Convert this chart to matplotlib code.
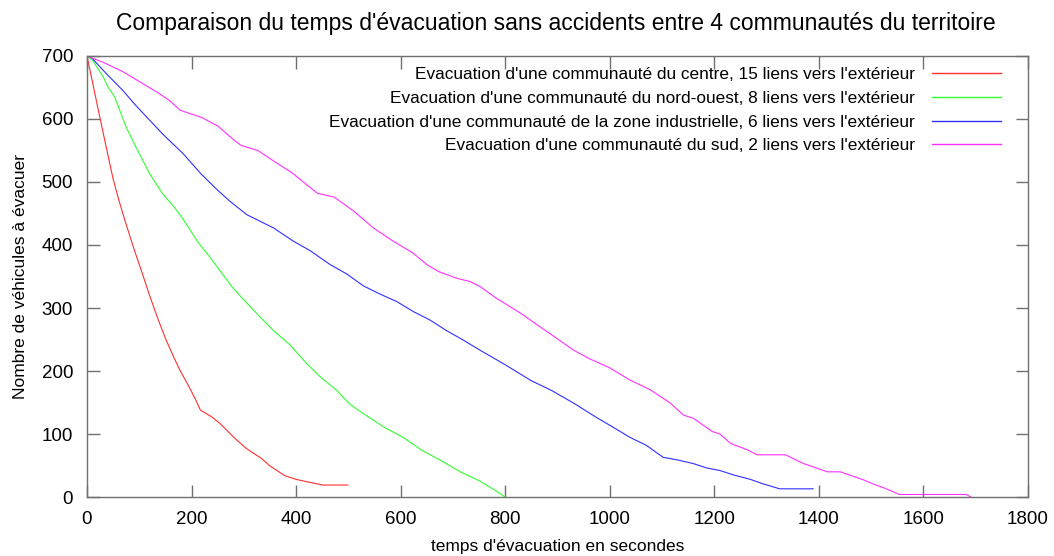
import matplotlib
matplotlib.use('Agg')
import matplotlib.pyplot as plt

plt.rcParams['font.family'] = ['Liberation Sans', 'DejaVu Sans']

# temps (s) et nombre de véhicules restants pour chaque communauté
t_centre = [0, 10, 20, 30, 40, 50, 60, 73, 89, 105, 121, 137, 150, 166, 178,
            194, 207, 217, 239, 254, 283, 305, 334, 349, 378, 400, 422, 451, 499]
v_centre = [700, 661, 621, 582, 543, 505, 474, 438, 396, 357, 317, 280, 252, 222, 201,
            177, 156, 138, 127, 117, 93, 77, 61, 50, 34, 28, 24, 19, 19]

t_nord_ouest = [0, 11, 31, 40, 53, 75, 94, 120, 145, 165, 184, 211, 233, 252, 278, 299,
                325, 357, 389, 420, 446, 478, 502, 524, 568, 604, 641, 677, 714, 750, 780, 800]
v_nord_ouest = [700, 693, 667, 651, 635, 587, 555, 513, 481, 462, 441, 406, 383, 362, 333, 314,
                291, 264, 241, 212, 191, 169, 148, 135, 111, 95, 74, 58, 40, 26, 11, 0]

t_industrielle = [0, 8, 37, 69, 94, 120, 145, 165, 184, 218, 250, 274, 306, 357, 395, 427, 465,
                  497, 529, 561, 593, 625, 656, 688, 720, 752, 800, 849, 889, 933, 975, 1006,
                  1038, 1070, 1102, 1129, 1160, 1186, 1211, 1237, 1269, 1293, 1325, 1389]
v_industrielle = [700, 698, 672, 645, 621, 598, 576, 560, 545, 513, 487, 469, 448, 427, 406, 391, 369,
                  354, 335, 322, 310, 294, 281, 264, 249, 233, 210, 185, 169, 148, 126, 111,
                  95, 82, 63, 59, 53, 46, 42, 35, 28, 21, 13, 13]

t_sud = [0, 31, 69, 107, 139, 160, 178, 199, 218, 250, 282, 295, 327, 365, 390, 441, 473,
         510, 548, 586, 624, 650, 672, 708, 733, 752, 784, 829, 867, 931, 960, 1000, 1038,
         1078, 1116, 1141, 1160, 1196, 1211, 1231, 1263, 1282, 1336, 1371, 1416, 1441, 1486,
         1503, 1529, 1554, 1682, 1691]
v_sud = [700, 690, 675, 656, 640, 628, 614, 608, 603, 589, 566, 558, 550, 529, 516, 482, 476,
         454, 427, 406, 387, 369, 358, 347, 342, 334, 315, 292, 270, 233, 220, 205, 186,
         170, 149, 130, 125, 104, 100, 85, 75, 67, 67, 53, 40, 40, 27,
         21, 13, 4, 4, 0]

labels = ["Evacuation d'une communauté du centre, 15 liens vers l'extérieur",
          "Evacuation d'une communauté du nord-ouest, 8 liens vers l'extérieur",
          "Evacuation d'une communauté de la zone industrielle, 6 liens vers l'extérieur",
          "Evacuation d'une communauté du sud, 2 liens vers l'extérieur"]

fig = plt.figure(figsize=(10.54, 5.56), dpi=100)
ax = fig.add_axes([0.0825, 0.1061, 0.8928, 0.7932])

lw = 0.8
ax.plot(t_centre, v_centre, color='#ff3030', linewidth=lw, label=labels[0])
ax.plot(t_nord_ouest, v_nord_ouest, color='#30ff30', linewidth=lw, label=labels[1])
ax.plot(t_industrielle, v_industrielle, color='#3030ff', linewidth=lw, label=labels[2])
ax.plot(t_sud, v_sud, color='#ff30ff', linewidth=lw, label=labels[3])

ax.set_xlim(0, 1800)
ax.set_ylim(0, 700)
ax.set_xticks(range(0, 1801, 200))
ax.set_yticks(range(0, 701, 100))

for s in ax.spines.values():
    s.set_color('#707070')
    s.set_linewidth(1.0)
ax.tick_params(direction='in', length=9, width=1, color='#707070',
               top=True, right=True, labelsize=13.5, pad=10)

ax.set_xlabel("temps d'évacuation en secondes", fontsize=12.5, labelpad=8)
ax.set_ylabel("Nombre de véhicules à évacuer", fontsize=12.5, labelpad=10)
fig.suptitle("Comparaison du temps d'évacuation sans accidents entre 4 communautés du territoire",
             fontsize=16.5, y=0.958, va='center', x=0.527)

leg = ax.legend(loc='upper right', bbox_to_anchor=(0.979, 0.99), frameon=False,
                markerfirst=False, fontsize=12.4, handlelength=4.0, handletextpad=1.0,
                labelspacing=0.5, borderaxespad=0)
for h in leg.legend_handles:
    h.set_linewidth(1.0)

fig.savefig('out.png', dpi=100)
